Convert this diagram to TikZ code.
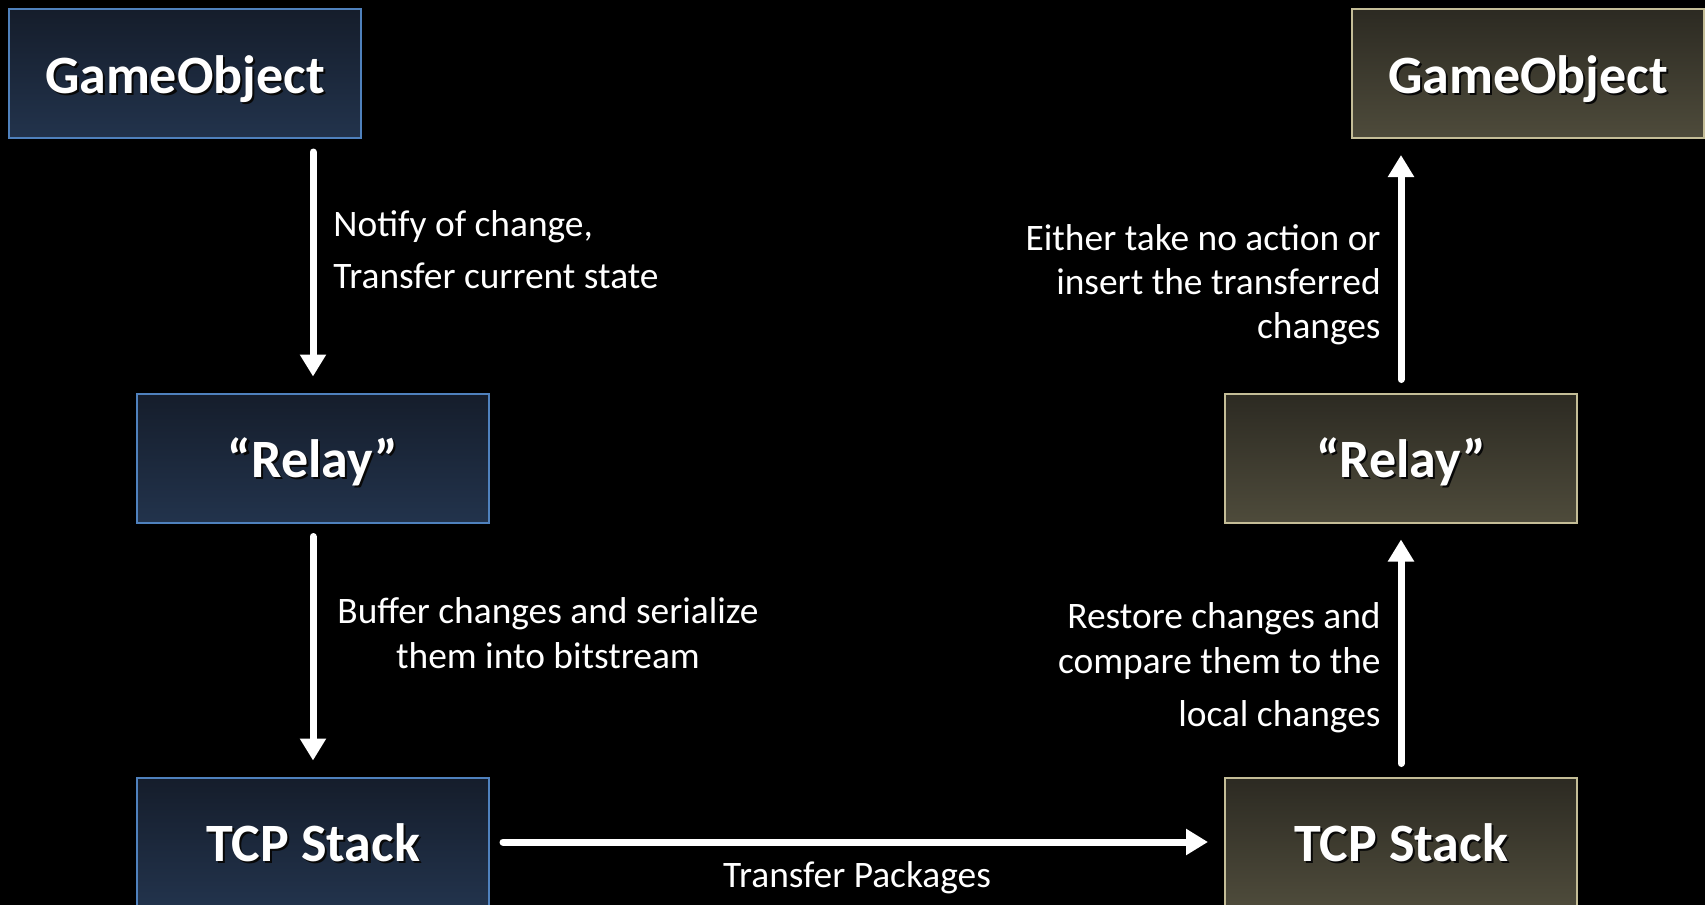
\documentclass[tikz,border=0pt]{standalone}
\usepackage{fontspec}
\setmainfont{Carlito}
\usetikzlibrary{arrows.meta}

\definecolor{sendtop}{RGB}{21,29,43}
\definecolor{sendbot}{RGB}{34,51,76}
\definecolor{sendline}{RGB}{79,129,189}
\definecolor{recvtop}{RGB}{44,42,34}
\definecolor{recvbot}{RGB}{78,75,59}
\definecolor{recvline}{RGB}{196,189,151}
\definecolor{shadowc}{RGB}{8,8,8}

% bold title with a small drop shadow
\newcommand\shtext[1]{\leavevmode\rlap{\kern1.1pt\raisebox{-1.1pt}{\color{shadowc}#1}}#1}

\begin{document}
\begin{tikzpicture}[x=0.5pt,y=-0.5pt,
  box/.style={draw, line width=1pt, minimum width=176pt, minimum height=64.5pt,
    inner sep=0pt, text=white, text height=19.5pt, text depth=0pt,
    font=\fontsize{27}{31}\selectfont\bfseries},
  sender/.style={box, draw=sendline, top color=sendtop, bottom color=sendbot},
  receiver/.style={box, draw=recvline, top color=recvtop, bottom color=recvbot},
  flow/.style={draw=white, line width=3.5pt, line cap=round,
    -{Triangle[length=11pt,width=12.5pt]}, shorten <=6.5pt, shorten >=8pt},
  note/.style={text=white, inner sep=0pt}
]
\fill[black] (0,0) rectangle (1705,905);
\useasboundingbox (0,0) rectangle (1705,905);

% sending side
\node[sender] (goL) at (185,73.5) {\shtext{GameObject}};
\node[sender] (relayL) at (313,458) {\shtext{“Relay”}};
\node[sender] (tcpL) at (313,842) {\shtext{TCP Stack}};

% receiving side
\node[receiver] (goR) at (1528,73.5) {\shtext{GameObject}};
\node[receiver] (relayR) at (1401,458) {\shtext{“Relay”}};
\node[receiver] (tcpR) at (1401,842) {\shtext{TCP Stack}};

% connectors
\draw[flow] (relayL.north |- goL.south) -- (relayL.north);
\draw[flow] (relayL.south) -- (tcpL.north);
\draw[flow] (tcpL.east) -- (tcpR.west);
\draw[flow] (tcpR.north) -- (relayR.south);
\draw[flow] (relayR.north) -- (relayR.north |- goR.south);

% connector labels
\node[note, anchor=north west, align=left,
  font=\fontsize{18.7}{26}\selectfont] (n1) at (333,210)
  {Notify of change,\\Transfer current state};
\node[note, anchor=north, align=center,
  font=\fontsize{18.7}{22.5}\selectfont] (n2) at (548,597)
  {Buffer changes and serialize\\them into bitstream};
\node[note, anchor=center,
  font=\fontsize{18.7}{22.5}\selectfont] (n3) at (857,878)
  {Transfer Packages};
\node[note, anchor=north east, align=right,
  font=\fontsize{18.7}{22.5}\selectfont] (n4) at (1381,602)
  {Restore changes and\\compare them to the\\[4pt]local changes};
\node[note, anchor=north east, align=right,
  font=\fontsize{18.7}{22}\selectfont] (n5) at (1381,224)
  {Either take no action or\\insert the transferred\\changes};
\end{tikzpicture}
\end{document}
